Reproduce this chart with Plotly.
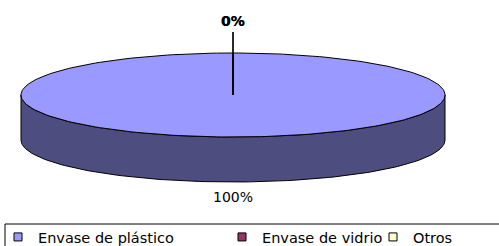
import numpy as np
import plotly.graph_objects as go

# ---- data ----
categories = ["Envase de plástico", "Envase de vidrio", "Otros"]
values = [100, 0, 0]
top_colors = ["#9999FF", "#993366", "#FFFFCC"]
side_colors = ["#4D4D80", "#4D1A33", "#808066"]

# ---- geometry / styling (pixel based, 1 data unit = RX px) ----
W, H = 499, 246
CX, CY = 233, 95      # pixel centre of the top face
RX = 212              # horizontal radius in px
RY = 42 / RX          # vertical radius (tilt) in data units
DEPTH = 45 / RX       # thickness of the pie
FONT = "DejaVu Sans"

total = float(sum(values))
shares = [v / total for v in values]
ends = np.cumsum(shares) * 2 * np.pi
starts = np.concatenate([[0.0], ends[:-1]])


def arc(a, b, n=240, dy=0.0):
    t = np.linspace(a, b, max(2, int(n * (b - a) / (2 * np.pi)) + 2))
    return np.sin(t), RY * np.cos(t) + dy


fig = go.Figure()

# sides (front visible half)
for i in range(len(values)):
    lo = max(starts[i], np.pi / 2)
    hi = min(ends[i], 3 * np.pi / 2)
    if hi > lo:
        xt, yt = arc(lo, hi)
        xb, yb = arc(lo, hi, dy=-DEPTH)
        xs = np.concatenate([xt, xb[::-1], xt[:1]])
        ys = np.concatenate([yt, yb[::-1], yt[:1]])
        fig.add_trace(go.Scatter(x=xs, y=ys, mode="lines", fill="toself",
                                 fillcolor=side_colors[i],
                                 line=dict(color="black", width=1),
                                 showlegend=False, hoverinfo="skip"))

# top faces
for i in range(len(values)):
    xa, ya = arc(starts[i], ends[i])
    xs = np.concatenate([[0.0], xa, [0.0]])
    ys = np.concatenate([[0.0], ya, [0.0]])
    fig.add_trace(go.Scatter(x=xs, y=ys, mode="lines", fill="toself",
                             fillcolor=top_colors[i],
                             line=dict(color="black", width=1),
                             showlegend=False, hoverinfo="skip"))

# data labels
for i in range(len(values)):
    phi = (starts[i] + ends[i]) / 2
    small = shares[i] < 0.05
    f = 1.715 if small else 1.384
    lx = np.sin(phi) * f
    ly = RY * np.cos(phi) * f
    if np.cos(phi) < 0:
        ly -= DEPTH
    txt = f"{round(shares[i] * 100)}%"
    if small:
        # leader line from slice edge to label
        ex, ey = np.sin(phi), RY * np.cos(phi)
        fig.add_trace(go.Scatter(x=[ex, lx], y=[ey, ly - 9 / RX],
                                 mode="lines", line=dict(color="black", width=1.2),
                                 showlegend=False, hoverinfo="skip"))
        txt = f"<b>{txt}</b>"
    fig.add_trace(go.Scatter(x=[lx], y=[ly], mode="text", text=[txt],
                             textfont=dict(family=FONT, size=14, color="black"),
                             showlegend=False, hoverinfo="skip"))

# legend entries
legend_x_px = [38, 262, 413]
legend_names = ["legend", "legend2", "legend3"]
for i in range(len(categories)):
    fig.add_trace(go.Scatter(x=[None], y=[None], mode="markers", name=categories[i],
                             marker=dict(symbol="square", size=8, color=top_colors[i],
                                         line=dict(color="black", width=1)),
                             legend=legend_names[i]))

layout_legends = {}
for i, ln in enumerate(legend_names):
    layout_legends[ln] = dict(x=(legend_x_px[i] - 40) / W, y=(H - 237) / H,
                              xanchor="left", yanchor="middle",
                              bgcolor="rgba(0,0,0,0)", borderwidth=0,
                              font=dict(family=FONT, size=14.5, color="black"))

fig.update_layout(
    width=W, height=H, autosize=False,
    margin=dict(l=0, r=0, t=0, b=0, autoexpand=False),
    paper_bgcolor="white", plot_bgcolor="white",
    xaxis=dict(range=[-CX / RX, (W - CX) / RX], visible=False, fixedrange=True),
    yaxis=dict(range=[(CY - H) / RX, CY / RX], visible=False, fixedrange=True),
    shapes=[dict(type="rect", xref="paper", yref="paper",
                 x0=5 / W, x1=1.02, y0=-0.05, y1=(H - 224) / H,
                 line=dict(color="black", width=1), fillcolor="rgba(0,0,0,0)")],
    **layout_legends,
)

fig.write_html("out.html", config={"displayModeBar": False},
               post_script="document.body.style.margin='0px';document.body.style.overflow='hidden';")
